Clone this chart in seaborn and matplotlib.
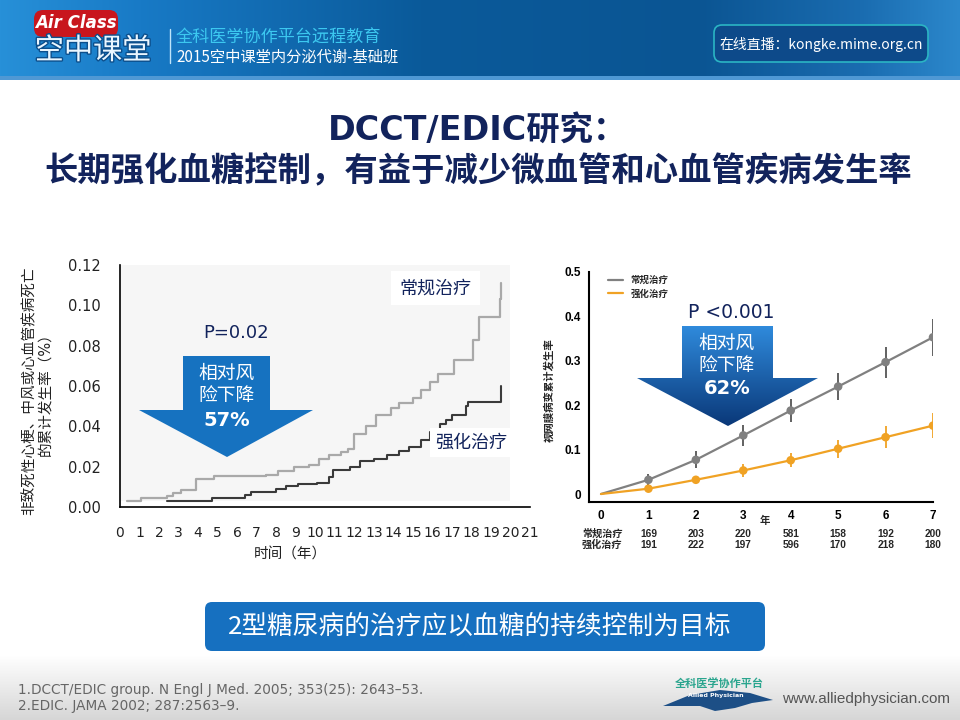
import matplotlib
matplotlib.use('Agg')
import matplotlib.pyplot as plt
import seaborn as sns
import numpy as np
import pandas as pd
from matplotlib.patches import Polygon, FancyBboxPatch
from matplotlib.lines import Line2D
import matplotlib.patheffects as pe

# left chart: cumulative incidence of non-fatal MI, stroke or CVD death (step curves)
conv_t = [0.35, 1.1, 2.4, 2.7, 3.1, 3.9, 4.8, 7.5, 8.1, 8.9, 9.7, 10.2, 10.7, 11.3, 11.7, 12.0,
          12.6, 13.1, 13.9, 14.3, 15.0, 15.4, 15.9, 16.3, 17.1, 18.1, 18.4, 19.45, 19.5]
conv_y = [0.003, 0.0045, 0.0056, 0.007, 0.0086, 0.014, 0.0155, 0.016, 0.018, 0.020, 0.021, 0.024,
          0.026, 0.0275, 0.029, 0.036, 0.040, 0.0457, 0.049, 0.0515, 0.054, 0.058, 0.062, 0.066,
          0.073, 0.083, 0.094, 0.103, 0.111]
int_t = [2.4, 4.7, 6.4, 6.7, 8.0, 8.5, 9.1, 10.1, 10.7, 10.9, 11.8, 12.3, 13.0, 13.7, 14.3, 14.8,
         15.4, 15.9, 16.4, 16.7, 17.0, 17.7, 17.8, 19.5]
int_y = [0.003, 0.0045, 0.006, 0.0073, 0.009, 0.0102, 0.0114, 0.012, 0.015, 0.0185, 0.020, 0.023,
         0.024, 0.026, 0.028, 0.030, 0.033, 0.037, 0.041, 0.043, 0.0457, 0.050, 0.052, 0.060]
left_yticks = [0.00, 0.02, 0.04, 0.06, 0.08, 0.10, 0.12]
left_xticks = list(range(0, 22))

# right chart: cumulative incidence of retinopathy progression
years = [0, 1, 2, 3, 4, 5, 6, 7]
retino_conv = [0, 0.032, 0.077, 0.132, 0.188, 0.242, 0.297, 0.353]
retino_conv_err = [0, 0.012, 0.019, 0.023, 0.026, 0.030, 0.035, 0.042]
retino_int = [0, 0.012, 0.032, 0.053, 0.076, 0.102, 0.128, 0.154]
retino_int_err = [0, 0.005, 0.008, 0.014, 0.016, 0.020, 0.025, 0.028]
right_yticks = [0, 0.1, 0.2, 0.3, 0.4, 0.5]
right_ylabels = ['0', '0.1', '0.2', '0.3', '0.4', '0.5']
n_conv = [169, 203, 220, 581, 158, 192, 200]
n_int = [191, 222, 197, 596, 170, 218, 180]

navy = '#12235c'
grey_c = '#808080'
orange_c = '#f0a224'

sns.set_theme(style='white')
plt.rcParams['font.family'] = ['DejaVu Sans', 'Noto Sans CJK SC']
plt.rcParams['axes.unicode_minus'] = False

fig = plt.figure(figsize=(9.6, 7.2), dpi=100)
fig.patch.set_facecolor('white')

# background layer in pixel coordinates
bg = fig.add_axes([0, 0, 1, 1], zorder=0)
bg.axis('off')

# header band
xs = np.arange(960)
stops_x = [0, 140, 420, 700, 860, 960]
stops_c = [(0x27, 0x90, 0xd8), (0x18, 0x7a, 0xc6), (0x0a, 0x5a, 0x9a),
           (0x0b, 0x55, 0x93), (0x1a, 0x6c, 0xb0), (0x2c, 0x88, 0xcc)]
row = np.stack([np.interp(xs, stops_x, [c[i] for c in stops_c]) for i in range(3)], axis=-1) / 255
head = np.repeat(row[None, :, :], 80, axis=0)
head[76:80] = np.array([0x4f, 0x98, 0xd4]) / 255
bg.imshow(head, extent=(0, 960, 80, 0), aspect='auto', zorder=0)

# footer band
fade = np.linspace(1.0, 0.84, 65)
foot = np.repeat(fade[:, None, None], 3, axis=2)
bg.imshow(foot, extent=(0, 960, 720, 655), aspect='auto', zorder=0)
bg.set_xlim(0, 960)
bg.set_ylim(720, 0)

# logo
bg.add_patch(FancyBboxPatch((34, 10), 84, 27, boxstyle='round,pad=0,rounding_size=9',
                            fc='#c8161d', ec='none', zorder=2))
bg.text(76, 23, 'Air Class', color='white', fontsize=12, fontweight='bold', style='italic',
        ha='center', va='center', zorder=3)
bg.text(93, 51, '空中课堂', color='#eaf6ff', fontsize=21, ha='center', va='center', zorder=3,
        family=['Noto Sans CJK SC'],
        path_effects=[pe.withStroke(linewidth=2, foreground='#0c4f8c')])
bg.plot([170, 170], [29, 63], color='#bfe4fa', lw=1, zorder=3)
bg.text(176, 38, '全科医学协作平台远程教育', color='#3cc8f0', fontsize=12.3, ha='left', va='center',
        family=['Noto Sans CJK SC'], zorder=3)
bg.text(176, 57, '2015空中课堂内分泌代谢-基础班', color='white', fontsize=11, ha='left', va='center',
        family=['Noto Sans CJK SC'], zorder=3)
bg.add_patch(FancyBboxPatch((714, 25), 214, 37, boxstyle='round,pad=0,rounding_size=8',
                            fc='#0d4a8a', ec='#2bb5c4', lw=1.2, zorder=2))
bg.text(821, 44, '在线直播：kongke.mime.org.cn', color='white', fontsize=10, ha='center',
        va='center', family=['Noto Sans CJK SC'], zorder=3)

# title
bg.text(478, 130, 'DCCT/EDIC研究：', color=navy, fontsize=24, fontweight='bold',
        ha='center', va='center', zorder=3)
bg.text(478, 172, '长期强化血糖控制，有益于减少微血管和心血管疾病发生率', color=navy, fontsize=24,
        fontweight='bold', ha='center', va='center', family=['Noto Sans CJK SC'], zorder=3)

# bottom message
bg.add_patch(FancyBboxPatch((205, 602), 560, 49, boxstyle='round,pad=0,rounding_size=7',
                            fc='#1670c0', ec='none', zorder=2))
bg.text(480, 627, '2型糖尿病的治疗应以血糖的持续控制为目标', color='white', fontsize=18.5,
        ha='center', va='center', family=['Noto Sans CJK SC'], zorder=3)

# references and footer logo
bg.text(18, 690, '1.DCCT/EDIC group. N Engl J Med. 2005; 353(25): 2643\u201353.', color='#666666',
        fontsize=9.8, ha='left', va='center', zorder=3)
bg.text(18, 706, '2.EDIC. JAMA 2002; 287:2563\u20139.', color='#666666',
        fontsize=9.8, ha='left', va='center', zorder=3)
bg.text(719, 683, '全科医学协作平台', color='#2aa58e', fontsize=8, fontweight='bold',
        ha='center', va='center', family=['Noto Sans CJK SC'], zorder=3)
bg.add_patch(Polygon([(663, 706), (690, 695), (720, 690), (750, 693), (773, 700), (752, 703),
                      (735, 708), (715, 711), (700, 706)], closed=True, fc='#1d4f86', ec='none', zorder=2))
bg.text(716, 696, 'Allied Physician', color='white', fontsize=4.5, fontweight='bold',
        ha='center', va='center', zorder=3)
bg.text(782, 699, 'www.alliedphysician.com', color='#555555', fontsize=11, ha='left', va='center',
        family=['Liberation Sans', 'DejaVu Sans'], zorder=3)

# ---------- left chart ----------
ax1 = fig.add_axes([120 / 960, 1 - 507 / 720, 410 / 960, 242 / 720], zorder=2)
ax1.set_facecolor('none')
ax1.fill_between([0, 20], 0.003, 0.12, color='#f6f6f6', zorder=0, lw=0)
sns.lineplot(x=conv_t, y=conv_y, ax=ax1, drawstyle='steps-post', color='#a9a9a9', lw=1.6,
             sort=False, estimator=None)
sns.lineplot(x=int_t, y=int_y, ax=ax1, drawstyle='steps-post', color='#3a3a3a', lw=1.5,
             sort=False, estimator=None)
ax1.set_xlim(0, 21)
ax1.set_ylim(0, 0.12)
ax1.set_xticks(left_xticks)
ax1.set_xticklabels([str(t) for t in left_xticks])
ax1.set_yticks(left_yticks)
ax1.set_yticklabels([f'{v:.2f}' for v in left_yticks])
for s in ['top', 'right']:
    ax1.spines[s].set_visible(False)
for s in ['left', 'bottom']:
    ax1.spines[s].set_color('black')
    ax1.spines[s].set_linewidth(1.2)
ax1.tick_params(axis='y', direction='out', length=8, width=1.2, color='black', labelsize=10.5,
                labelcolor='#222222', pad=6)
ax1.tick_params(axis='x', direction='out', length=6, width=1.2, color='black', labelsize=10,
                labelcolor='#222222', pad=8)
ax1.set_xlabel('时间（年）', fontsize=10.5, color='#222222')
ax1.xaxis.set_label_coords(0.415, -0.165)
ax1.set_ylabel('非致死性心梗、中风或心血管疾病死亡\n的累计发生率（%）', fontsize=10.5,
               color='#222222', linespacing=1.1)
ax1.yaxis.set_label_coords(-0.165, 0.48)
ax1.text(16.15, 0.1085, '常规治疗', color=navy, fontsize=13, ha='center', va='center',
         bbox=dict(fc='white', ec='none', pad=6))
ax1.text(18.0, 0.0318, '强化治疗', color=navy, fontsize=13, ha='center', va='center',
         bbox=dict(fc='white', ec='none', pad=4))

# ---------- right chart ----------
ax2 = fig.add_axes([589 / 960, 1 - 502 / 720, 344 / 960, 230 / 720], zorder=2)
ax2.set_facecolor('none')
ax2.errorbar(years[1:], retino_conv[1:], yerr=retino_conv_err[1:], fmt='none', ecolor='#555555',
             elinewidth=1.3, capsize=0, zorder=2)
ax2.errorbar(years[1:], retino_int[1:], yerr=retino_int_err[1:], fmt='none', ecolor=orange_c,
             elinewidth=1.3, capsize=0, zorder=2)
sns.lineplot(x=years, y=retino_conv, ax=ax2, color=grey_c, lw=1.6, label='常规治疗', zorder=3)
sns.lineplot(x=years, y=retino_int, ax=ax2, color=orange_c, lw=1.6, label='强化治疗', zorder=3)
sns.scatterplot(x=years[1:], y=retino_conv[1:], ax=ax2, color=grey_c, s=38, edgecolor='none', zorder=4)
sns.scatterplot(x=years[1:], y=retino_int[1:], ax=ax2, color=orange_c, s=38, edgecolor='none', zorder=4)
ax2.set_xlim(-0.253, 7)
ax2.set_ylim(-0.018, 0.5)
ax2.set_xticks(years)
ax2.set_yticks(right_yticks)
ax2.set_yticklabels(right_ylabels)
rfont = ['Liberation Sans', 'Noto Sans CJK SC']
for lab in ax2.get_xticklabels() + ax2.get_yticklabels():
    lab.set_family(rfont)
    lab.set_fontweight('bold')
    lab.set_fontsize(8.5)
for s in ['top', 'right']:
    ax2.spines[s].set_visible(False)
for s in ['left', 'bottom']:
    ax2.spines[s].set_color('black')
    ax2.spines[s].set_linewidth(1.5)
ax2.tick_params(axis='both', direction='out', length=4, width=1.3, color='black',
                labelcolor='black', pad=2)
ax2.set_xlabel('年', fontsize=7.5, fontweight='bold', family=rfont)
ax2.xaxis.set_label_coords(0.512, -0.062)
ax2.set_ylabel('视网膜病变累计发生率', fontsize=7.5, fontweight='bold', family=rfont)
ax2.yaxis.set_label_coords(-0.1, 0.487)
handles = [Line2D([0], [0], color=grey_c, lw=1.6), Line2D([0], [0], color=orange_c, lw=1.6)]
ax2.legend(handles, ['常规治疗', '强化治疗'], loc='upper left', bbox_to_anchor=(0.03, 1.02),
           frameon=False, handlelength=1.6, handletextpad=0.8, labelspacing=0.45,
           prop=dict(family=rfont, weight='bold', size=6.8))
tr = ax2.get_xaxis_transform()
ax2.text(-0.4, -0.139, '常规治疗', transform=tr, ha='left', va='center', fontsize=7.3,
         fontweight='bold', family=rfont, clip_on=False)
ax2.text(-0.4, -0.187, '强化治疗', transform=tr, ha='left', va='center', fontsize=7.3,
         fontweight='bold', family=rfont, clip_on=False)
for x, a, b in zip(years[1:], n_conv, n_int):
    ax2.text(x, -0.139, str(a), transform=tr, ha='center', va='center', fontsize=7.3,
             fontweight='bold', family=rfont, clip_on=False)
    ax2.text(x, -0.187, str(b), transform=tr, ha='center', va='center', fontsize=7.3,
             fontweight='bold', family=rfont, clip_on=False)

# ---------- top layer: arrows and annotations ----------
top = fig.add_axes([0, 0, 1, 1], zorder=5)
top.axis('off')
top.set_facecolor('none')

left_arrow = [(183, 356), (270, 356), (270, 410), (313, 410), (227, 457), (139, 410), (183, 410)]
top.add_patch(Polygon(left_arrow, closed=True, fc='#1672c0', ec='none'))
top.text(236, 333, 'P=0.02', color=navy, fontsize=13, ha='center', va='center')
top.text(227, 373, '相对风', color='white', fontsize=13.5, ha='center', va='center')
top.text(227, 395, '险下降', color='white', fontsize=13.5, ha='center', va='center')
top.text(227, 420, '57%', color='white', fontsize=14, fontweight='bold', ha='center', va='center')

right_arrow = [(682, 326), (773, 326), (773, 378), (818, 378), (728, 426), (637, 378), (682, 378)]
rpoly = Polygon(right_arrow, closed=True, fc='none', ec='none')
top.add_patch(rpoly)
grad = np.linspace(0, 1, 100)
c_top = np.array([0x2f, 0x8a, 0xdc]) / 255
c_bot = np.array([0x0a, 0x38, 0x78]) / 255
gimg = (c_top[None, :] * (1 - grad[:, None]) + c_bot[None, :] * grad[:, None])[:, None, :]
im = top.imshow(gimg, extent=(637, 818, 426, 326), aspect='auto', zorder=1)
im.set_clip_path(rpoly)
top.text(731, 313, 'P <0.001', color=navy, fontsize=13.5, ha='center', va='center')
top.text(727, 343, '相对风', color='white', fontsize=13.5, ha='center', va='center', zorder=3)
top.text(727, 365, '险下降', color='white', fontsize=13.5, ha='center', va='center', zorder=3)
top.text(727, 389, '62%', color='white', fontsize=14, fontweight='bold', ha='center', va='center', zorder=3)
top.set_xlim(0, 960)
top.set_ylim(720, 0)

fig.savefig('out.png', dpi=100, facecolor='white')
